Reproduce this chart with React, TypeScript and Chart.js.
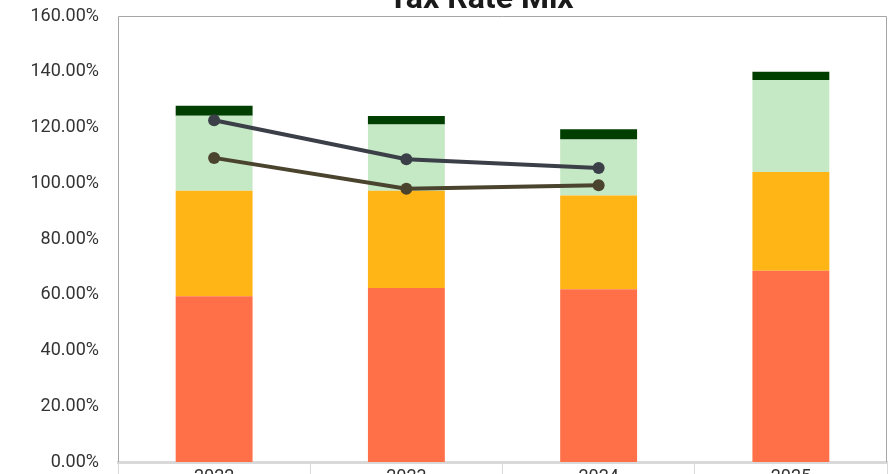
import { useEffect, useRef } from 'react';
import { Chart, registerables } from 'chart.js';

Chart.register(...registerables);

const categories = ['2022', '2023', '2024', '2025'];
const yTickValues = [0, 20, 40, 60, 80, 100, 120, 140, 160];
const baseRate = [59.5, 62.4, 62.0, 68.6];
const secondRate = [37.8, 34.9, 33.6, 35.4];
const thirdRate = [26.9, 23.8, 20.1, 33.0];
const topRate = [3.6, 3.0, 3.7, 3.0];
const lineUpper = [122.6, 108.6, 105.5, null];
const lineLower = [109.1, 98.0, 99.3, null];
const titleText = 'Tax Rate Mix';

const OFFSET_TOP = 30;
const CANVAS_W = 895;
const CANVAS_H = 560;

export default function App() {
  const ref = useRef<HTMLCanvasElement>(null);

  useEffect(() => {
    const framePlugin = {
      id: 'frameAndTitle',
      beforeDatasetsDraw(chart: any) {
        const { ctx, chartArea } = chart;
        const { left, top, right, bottom } = chartArea;
        ctx.save();
        ctx.strokeStyle = '#a6a6a6';
        ctx.lineWidth = 1;
        ctx.beginPath();
        ctx.moveTo(Math.round(left) + 0.5, bottom);
        ctx.lineTo(Math.round(left) + 0.5, Math.round(top) + 0.5);
        ctx.lineTo(Math.round(right) - 0.5, Math.round(top) + 0.5);
        ctx.lineTo(Math.round(right) - 0.5, bottom);
        ctx.stroke();
        ctx.restore();
      },
      afterDraw(chart: any) {
        const { ctx } = chart;
        ctx.save();
        ctx.font = 'bold 32px Roboto';
        ctx.fillStyle = '#1a1a1a';
        ctx.textAlign = 'center';
        ctx.textBaseline = 'alphabetic';
        ctx.fillText(titleText, 481, OFFSET_TOP + 8);
        ctx.restore();
      },
    };

    const tickFont = { family: 'Roboto', size: 18 };

    const chart = new Chart(ref.current!, {
      type: 'bar',
      data: {
        labels: categories,
        datasets: [
          { type: 'bar', label: 'Rate 1', data: baseRate, backgroundColor: '#FF7049', order: 1, barPercentage: 0.4, categoryPercentage: 1 },
          { type: 'bar', label: 'Rate 2', data: secondRate, backgroundColor: '#FFB515', order: 1, barPercentage: 0.4, categoryPercentage: 1 },
          { type: 'bar', label: 'Rate 3', data: thirdRate, backgroundColor: '#C5E8C5', order: 1, barPercentage: 0.4, categoryPercentage: 1 },
          { type: 'bar', label: 'Rate 4', data: topRate, backgroundColor: '#003F00', order: 1, barPercentage: 0.4, categoryPercentage: 1 },
          {
            type: 'line', label: 'Total A', data: lineUpper, stack: 'lineA', order: 0,
            borderColor: '#3B3F47', backgroundColor: '#3B3F47', borderWidth: 4,
            pointRadius: 6, pointBorderWidth: 0, pointBackgroundColor: '#3B3F47', fill: false, tension: 0,
          },
          {
            type: 'line', label: 'Total B', data: lineLower, stack: 'lineB', order: 0,
            borderColor: '#4A432D', backgroundColor: '#4A432D', borderWidth: 4,
            pointRadius: 6, pointBorderWidth: 0, pointBackgroundColor: '#4A432D', fill: false, tension: 0,
          },
        ] as any,
      },
      options: {
        responsive: false,
        maintainAspectRatio: false,
        animation: false,
        devicePixelRatio: 1,
        layout: { padding: { top: 46, left: 0, right: 8, bottom: CANVAS_H - (OFFSET_TOP + 462) - 40 } },
        plugins: {
          legend: { display: false },
          tooltip: { enabled: false },
          title: { display: false },
        },
        scales: {
          x: {
            stacked: true,
            grid: { offset: true, drawOnChartArea: false, drawTicks: true, tickLength: 14, color: '#d9d9d9', lineWidth: 1 },
            border: { display: true, color: '#d9d9d9', width: 3 },
            ticks: { font: tickFont, color: '#333333', padding: -9 },
            afterFit(scale: any) { scale.height = 40; },
          },
          y: {
            stacked: true,
            min: yTickValues[0],
            max: yTickValues[yTickValues.length - 1],
            afterBuildTicks(scale: any) { scale.ticks = yTickValues.map((v) => ({ value: v })); },
            ticks: {
              font: tickFont,
              color: '#333333',
              padding: 19,
              callback: (v: any) => Number(v).toFixed(2) + '%',
            },
            grid: { display: false, drawTicks: false },
            border: { display: false },
            afterFit(scale: any) { scale.width = 118; },
          },
        },
      } as any,
      plugins: [framePlugin],
    });
    return () => chart.destroy();
  }, []);

  return (
    <div style={{ position: 'fixed', left: 0, top: 0, width: CANVAS_W, height: 474, overflow: 'hidden', background: '#ffffff' }}>
      <canvas
        ref={ref}
        width={CANVAS_W}
        height={CANVAS_H}
        style={{ position: 'absolute', left: 0, top: -OFFSET_TOP, width: CANVAS_W, height: CANVAS_H }}
      />
    </div>
  );
}
